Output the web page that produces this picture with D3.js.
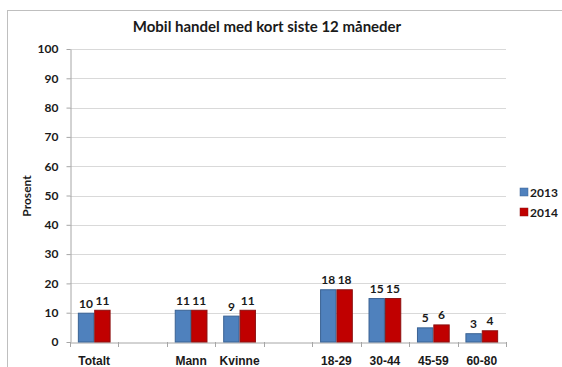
<!DOCTYPE html>
<html>
<head>
<meta charset="utf-8">
<script src="https://cdn.jsdelivr.net/npm/d3@7"></script>
<style>
  html, body { margin: 0; padding: 0; background: #fff; }
  svg { display: block; font-family: Lato, "Open Sans", "Liberation Sans", sans-serif; }
</style>
</head>
<body>
<svg id="chart" width="562" height="367"></svg>
<script>
// Categories along the x axis (empty slots are spacer columns)
const categories = ["Totalt", "", "Mann", "Kvinne", " ", "18-29", "30-44", "45-59", "60-80"];
const series = ["2013", "2014"];
const values2013 = [10, null, 11, 9, null, 18, 15, 5, 3];
const values2014 = [11, null, 11, 11, null, 18, 15, 6, 4];
const yTicks = [0, 10, 20, 30, 40, 50, 60, 70, 80, 90, 100];
const colors = { "2013": "#4f81bd", "2014": "#c00000" };
const strokes = { "2013": "#3a6293", "2014": "#8c1010" };

const svg = d3.select("#chart");
const margin = { left: 70, right: 56, top: 49, bottom: 25 };
const plotBottom = 342;
const plotRight = 506;

// Frame around the chart
svg.append("rect")
  .attr("x", 7.5).attr("y", 10.5)
  .attr("width", 570).attr("height", 380)
  .attr("fill", "none").attr("stroke", "#bfbfbf").attr("stroke-width", 1);

const x = d3.scaleBand().domain(categories).range([margin.left, plotRight]).paddingInner(0).paddingOuter(0);
const y = d3.scaleLinear().domain([0, 100]).range([plotBottom, margin.top]);
const inner = d3.scaleBand().domain(series).range([0, x.bandwidth()]).paddingInner(0).paddingOuter(0.48);

// Horizontal gridlines
svg.append("g").selectAll("line").data(yTicks.filter(d => d > 0)).join("line")
  .attr("x1", margin.left).attr("x2", plotRight)
  .attr("y1", d => Math.round(y(d)) + 0.5).attr("y2", d => Math.round(y(d)) + 0.5)
  .attr("stroke", "#d9d9d9").attr("stroke-width", 1);

// Y axis
const yAxis = svg.append("g")
  .attr("transform", `translate(${margin.left + 0.5},0)`)
  .call(d3.axisLeft(y).tickValues(yTicks).tickSize(4).tickSizeOuter(0).tickPadding(8));
yAxis.select(".domain").attr("stroke", "#a6a6a6");
yAxis.selectAll(".tick line").attr("stroke", "#a6a6a6");
yAxis.selectAll("text").attr("font-size", 12).attr("font-weight", "bold").attr("fill", "#1a1a1a")
  .attr("font-family", "Lato, 'Open Sans', sans-serif");

// X axis
const xAxis = svg.append("g")
  .attr("transform", `translate(0,${plotBottom + 0.5})`)
  .call(d3.axisBottom(x).tickSize(0).tickPadding(14));
xAxis.select(".domain").attr("stroke", "#a6a6a6");
xAxis.selectAll("text").attr("font-size", 12).attr("font-weight", "bold").attr("fill", "#1a1a1a");
// Category separators below the axis
svg.append("g").selectAll("line").data(categories.map((c, i) => i).concat([categories.length])).join("line")
  .attr("x1", i => Math.round(margin.left + i * x.step()) + 0.5)
  .attr("x2", i => Math.round(margin.left + i * x.step()) + 0.5)
  .attr("y1", plotBottom).attr("y2", plotBottom + 5)
  .attr("stroke", "#a6a6a6");

// Bars
const rows = categories.map((c, i) => ({ c, v: { "2013": values2013[i], "2014": values2014[i] } }));
const groups = svg.append("g").selectAll("g").data(rows).join("g")
  .attr("transform", d => `translate(${x(d.c)},0)`);
groups.selectAll("rect")
  .data(d => series.filter(s => d.v[s] != null).map(s => ({ s, v: d.v[s] })))
  .join("rect")
  .attr("x", d => inner(d.s) + 0.5)
  .attr("y", d => y(d.v) + 0.5)
  .attr("width", inner.bandwidth() - 1)
  .attr("height", d => plotBottom - y(d.v) - 0.5)
  .attr("fill", d => colors[d.s])
  .attr("stroke", d => strokes[d.s]).attr("stroke-width", 1);
groups.selectAll("text")
  .data(d => series.filter(s => d.v[s] != null).map(s => ({ s, v: d.v[s] })))
  .join("text")
  .attr("x", d => inner(d.s) + inner.bandwidth() / 2)
  .attr("y", d => y(d.v) - 5)
  .attr("text-anchor", "middle")
  .attr("font-size", 12).attr("font-weight", "bold").attr("fill", "#1a1a1a")
  .text(d => d.v);

// Title
svg.append("text")
  .attr("x", 267).attr("y", 32)
  .attr("text-anchor", "middle")
  .attr("font-size", 15).attr("font-weight", "bold").attr("fill", "#1a1a1a")
  .text("Mobil handel med kort siste 12 måneder");

// Y axis title
svg.append("text")
  .attr("transform", "translate(31,196) rotate(-90)")
  .attr("text-anchor", "middle")
  .attr("font-size", 12).attr("font-weight", "bold").attr("fill", "#1a1a1a")
  .text("Prosent");

// Legend
const legend = svg.append("g").selectAll("g").data(series).join("g")
  .attr("transform", (d, i) => `translate(520,${188 + i * 20})`);
legend.append("rect").attr("width", 8).attr("height", 8)
  .attr("fill", d => colors[d]).attr("stroke", d => strokes[d]).attr("stroke-width", 0.5);
legend.append("text").attr("x", 10).attr("y", 8.5)
  .attr("font-size", 12).attr("font-weight", "bold").attr("fill", "#1a1a1a")
  .text(d => d);
</script>
</body>
</html>
